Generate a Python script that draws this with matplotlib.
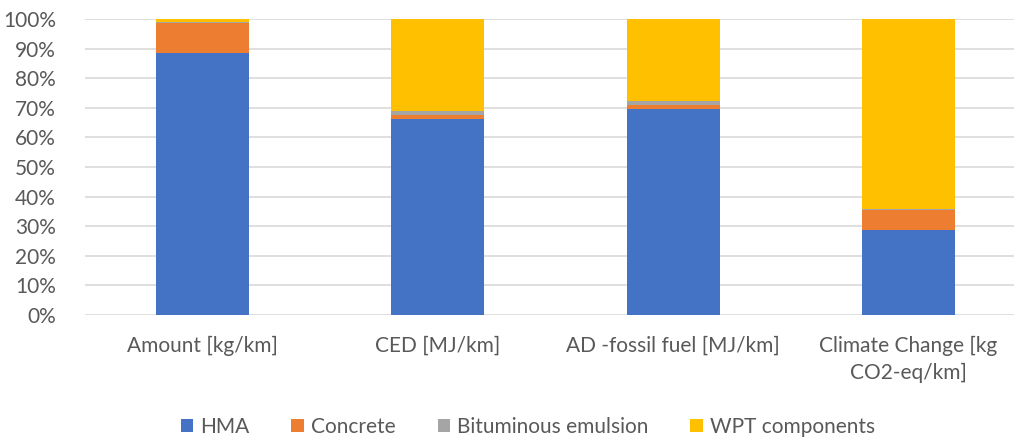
import matplotlib
matplotlib.use("Agg")
import matplotlib.pyplot as plt
import numpy as np

categories = ["Amount [kg/km]", "CED [MJ/km]", "AD -fossil fuel [MJ/km]", "Climate Change [kg\nCO2-eq/km]"]
hma = [88.4, 66.1, 69.6, 28.8]
concrete = [10.4, 1.6, 1.45, 6.6]
bituminous = [0.15, 1.2, 1.35, 0.3]
wpt = [1.05, 31.1, 27.6, 64.3]

series = [("HMA", hma, "#4472C4"),
          ("Concrete", concrete, "#ED7D31"),
          ("Bituminous emulsion", bituminous, "#A5A5A5"),
          ("WPT components", wpt, "#FFC000")]

plt.rcParams["font.family"] = ["Lato", "DejaVu Sans"]
txt = "#595959"
fs = 15

fig = plt.figure(figsize=(10.14, 4.41), dpi=100)
ax = fig.add_axes([85 / 1014, 1 - 315 / 441, (1014 - 85) / 1014, (315 - 19) / 441])

x = np.arange(len(categories))
bottom = np.zeros(len(categories))
for name, vals, col in series:
    ax.bar(x, vals, 0.395, bottom=bottom, color=col, label=name, zorder=3)
    bottom += np.array(vals)

ax.set_ylim(0, 100)
ax.set_xlim(-0.5, 3.449)
ax.set_yticks(np.arange(0, 101, 10))
ax.set_yticklabels([f"{v}%" for v in range(0, 101, 10)])
ax.set_xticks(x)
ax.set_xticklabels(categories, linespacing=1.45)
ax.grid(axis="y", color="#D9D9D9", linewidth=1.2, zorder=0)
for s in ax.spines.values():
    s.set_visible(False)
ax.tick_params(axis="both", length=0, labelsize=fs, colors=txt)
ax.tick_params(axis="y", pad=21)
ax.tick_params(axis="x", pad=15)

handles, labels = ax.get_legend_handles_labels()
fig.legend(handles, labels, loc="center", bbox_to_anchor=(528 / 1014, 1 - 427 / 441),
           ncol=4, frameon=False, fontsize=fs, labelcolor=txt,
           handlelength=0.6, handleheight=0.6, handletextpad=0.35, columnspacing=2.0)

fig.savefig("out.png", dpi=100)
